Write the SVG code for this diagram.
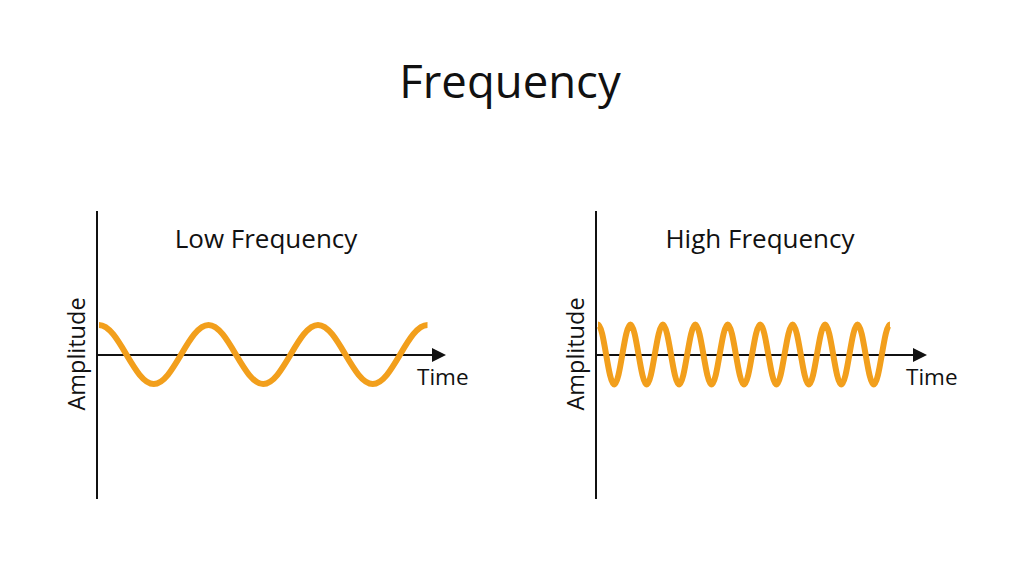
<svg xmlns="http://www.w3.org/2000/svg" width="1024" height="573" viewBox="0 0 1024 573">
<defs>
<style>
text{font-family:"Open Sans","Liberation Sans",sans-serif;fill:#111}
.ax{stroke:#111;stroke-width:2;fill:none}
.wave{stroke:#F29F1C;stroke-width:6;fill:none}
.lbl{font-size:26px}
.t{font-size:22.5px}
.a{font-size:23.5px}
</style>
</defs>
<rect width="1024" height="573" fill="#fff"/>
<text x="510" y="98" font-size="45.5" text-anchor="middle">Frequency</text>
<g id="low">
<text class="lbl" x="266" y="248" text-anchor="middle">Low Frequency</text>
<line class="ax" x1="97" y1="211" x2="97" y2="499"/>
<line class="ax" x1="97" y1="355" x2="434" y2="355"/>
<polygon points="432,348 446,355 432,362" fill="#111"/>
<path class="wave" d="M99,325 c19.9,0 34.85,59 54.75,59 s34.85,-59 54.75,-59 s34.85,59 54.75,59 s34.85,-59 54.75,-59 s34.85,59 54.75,59 s34.85,-59 54.75,-59"/>
<text class="t" x="417" y="385">Time</text>
<text class="a" transform="translate(85,354) rotate(-90)" text-anchor="middle">Amplitude</text>
</g>
<g id="high">
<text class="lbl" x="760" y="248" text-anchor="middle">High Frequency</text>
<line class="ax" x1="596" y1="211" x2="596" y2="499"/>
<line class="ax" x1="596" y1="355" x2="915" y2="355"/>
<polygon points="913,348 927,355 913,362" fill="#111"/>
<path class="wave" d="M598,324.5 c5.9,0 10.32,60 16.22,60 s10.32,-60 16.22,-60 s10.32,60 16.22,60 s10.32,-60 16.22,-60 s10.32,60 16.22,60 s10.32,-60 16.22,-60 s10.32,60 16.22,60 s10.32,-60 16.22,-60 s10.32,60 16.22,60 s10.32,-60 16.22,-60 s10.32,60 16.22,60 s10.32,-60 16.22,-60 s10.32,60 16.22,60 s10.32,-60 16.22,-60 s10.32,60 16.22,60 s10.32,-60 16.22,-60 s10.32,60 16.22,60 s10.32,-60 16.22,-60"/>
<text class="t" x="906" y="385">Time</text>
<text class="a" transform="translate(584,354) rotate(-90)" text-anchor="middle">Amplitude</text>
</g>
</svg>
